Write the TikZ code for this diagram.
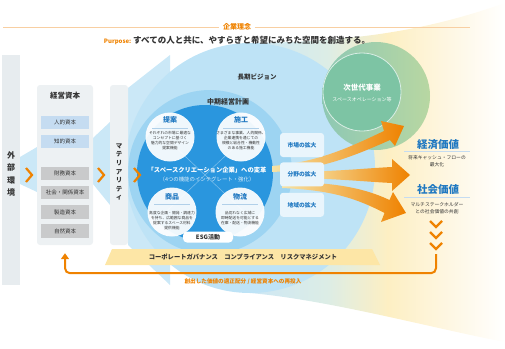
\documentclass[tikz,border=0pt]{standalone}
\usepackage{fontspec}
\setmainfont{Noto Sans CJK JP}
\usepackage{xcolor}
\usetikzlibrary{arrows.meta, positioning, calc, shapes.geometric}

\definecolor{tcorange}{HTML}{EF8200}
\definecolor{tcblue}{HTML}{1F78C1}
\definecolor{tctext}{HTML}{333333}
\definecolor{colgray}{HTML}{E7ECEF}
\definecolor{panelgray}{HTML}{EDF1F3}
\definecolor{boxblue}{HTML}{C5DCF1}
\definecolor{boxgray}{HTML}{C9CACB}
\definecolor{visionblue}{HTML}{BEE3F6}
\definecolor{planblue}{HTML}{9DD4F2}
\definecolor{coreblue}{HTML}{2A96DE}
\definecolor{nextgreen}{HTML}{7DC4A4}
\definecolor{ringteal}{HTML}{8EC8B4}
\definecolor{ringlime}{HTML}{B8D7A2}
\definecolor{bandyellow}{HTML}{FDE6A6}
\definecolor{funnelblue}{HTML}{CBE8F7}
\definecolor{growfill}{HTML}{E9F5FC}
\definecolor{fanblue}{HTML}{CDE7F5}
\definecolor{fanmint}{HTML}{DCEDE6}
\definecolor{fanyellow}{HTML}{FDEFC3}
\definecolor{fanpale}{HTML}{FEF6E0}
\definecolor{arrowpale}{HTML}{F6E3A6}
\definecolor{arrowmid}{HTML}{F5AE2E}
\definecolor{rinenline}{HTML}{F8CFA2}

\newcommand{\fsz}[2]{\fontsize{#1pt}{#2pt}\selectfont}

\pgfdeclarehorizontalshading{fanshade}{100bp}{color(0bp)=(fanblue); color(25bp)=(fanblue); color(40bp)=(fanmint); color(52bp)=(fanyellow); color(63bp)=(fanpale); color(75bp)=(white); color(100bp)=(white)}

\begin{document}
\begin{tikzpicture}[x=1pt, y=-1pt,
    chev/.style={draw=tcorange, line width=2.2pt},
    panel/.style={fill=panelgray, rounded corners=3, inner sep=0},
    capbox/.style={minimum width=48, minimum height=13.5, inner sep=0, font=\fsz{5.5}{6}, text=tctext},
    fnc/.style={circle, fill=white, fill opacity=0.93, minimum size=49, inner sep=0},
    fntitle/.style={font=\fsz{7}{8}\bfseries, text=tcblue},
    fntext/.style={font=\fsz{3.8}{5}, text=tctext, align=center},
    fnsep/.style={draw=tcblue!35, line width=0.4pt},
    growbox/.style={fill=growfill, rounded corners=3, minimum width=44, minimum height=24, inner sep=0, font=\fsz{5.8}{6}\bfseries, text=tcblue},
    valtitle/.style={font=\fsz{10.5}{12}\bfseries, text=tcblue},
    valtext/.style={font=\fsz{4.8}{6.8}, text=tctext, align=center},
    bigarrow/.style={left color=arrowpale, middle color=arrowmid, right color=tcorange},
    funnel/.style={fill=funnelblue}]
  \useasboundingbox (0,0) rectangle (505,348);

  % background fan
  \shade[shading=fanshade] (250,43) .. controls (380,42) and (450,22) .. (505,3)
     -- (505,342) .. controls (440,330) and (330,300) .. (250,293) -- cycle;

  % funnels
  \fill[funnel] (20,157) -- (37,147) -- (37,192) -- (20,184) -- cycle;
  \fill[funnel] (93,138) -- (110,122) -- (110,205) -- (93,184) -- cycle;
  \fill[funnel] (128,88) -- (170,55) -- (170,285) -- (128,245) -- cycle;

  % vision and plan
  \node[circle, fill=visionblue, minimum size=250, inner sep=0] (vision) at (250,168) {};
  \node[circle, fill=planblue, minimum size=164, inner sep=0] (plan) at (210,172) {};
  \node[font=\fsz{6.5}{7}\bfseries, text=tctext] (visionlbl) at (257,77) {長期ビジョン};
  \node[font=\fsz{7}{8}\bfseries, text=tctext] (planlbl) at (228,102) {中期経営計画};

  % core
  \node[circle, fill=coreblue, minimum size=136, inner sep=0] (core) at (205,173) {};
  \begin{scope}
    \clip (205,173) circle (68);
    \draw[white, opacity=0.35, line width=0.6pt] (120,95) -- (290,255);
    \draw[white, opacity=0.35, line width=0.6pt] (290,95) -- (120,255);
  \end{scope}

  \node[fnc] (teian) at (170,137) {};
  \node[fnc] (seko) at (241,137) {};
  \node[fnc] (shohin) at (172,212) {};
  \node[fnc] (butsuryu) at (240,212) {};

  \node[fntitle] (teiant) at (170,120) {提案};
  \draw[fnsep] (152,128) -- (188,128);
  \node[fntext] at (170,141) {それぞれの市場に最適な\\コンセプトに基づく\\魅力的な空間デザイン\\提案機能};

  \node[fntitle] (sekot) at (241,120) {施工};
  \draw[fnsep] (223,128) -- (259,128);
  \node[fntext] at (241,141) {さまざまな事業、人的関係、\\企業連携を通じての\\規模と総合性・機動性\\のある施工機能};

  \node[fntitle] (shohint) at (172,197) {商品};
  \draw[fnsep] (154,204) -- (190,204);
  \node[fntext] at (172,221) {高度な企画・開発・調達力\\を持ち、広範囲な商品を\\提案するスペース材料\\提供機能};

  \node[fntitle] (butsuryut) at (240,197) {物流};
  \draw[fnsep] (222,204) -- (258,204);
  \node[fntext] at (240,218) {品切れなく広域に\\即時配送を可能とする\\在庫・配送・物流機能};

  \node[fill=white, rounded corners=4, minimum width=50, minimum height=11, inner sep=0, font=\fsz{6}{7}\bfseries, text=tctext] (esg) at (208,237) {ESG活動};

  \node[font=\fsz{6.3}{7}\bfseries, text=white] (henkaku) at (207,170) {「スペースクリエーション企業」への変革};
  \node[font=\fsz{5.4}{6}, text=white!85!coreblue] (kyoka) at (207,179) {（4つの機能のインテグレート・強化）};

  % next generation business
  \node[circle, left color=ringteal, right color=ringlime, minimum size=108, inner sep=0] (nextring) at (376,96) {};
  \node[circle, fill=nextgreen, draw=white!70!nextgreen, line width=0.8pt, minimum size=78, inner sep=0] (next) at (362,92) {};
  \node[font=\fsz{7.5}{8}\bfseries, text=white] (nextt) at (362,88) {次世代事業};
  \node[font=\fsz{5}{6}, text=white] (nexts) at (362,100) {スペースオペレーション等};

  % growth arrows
  \path[bigarrow] (272,166) .. controls (320,162) and (352,146) .. (384,131)
     -- (381,121) -- (404,126) -- (395,146) -- (390,140)
     .. controls (354,156) and (320,170) .. (272,172) -- cycle;
  \path[bigarrow] (300,172) .. controls (340,171) and (370,168) .. (392,167)
     -- (392,159) -- (410,175) -- (392,191) -- (392,183)
     .. controls (370,182) and (340,179) .. (300,178) -- cycle;
  \path[bigarrow] (282,182) .. controls (330,182) and (362,187) .. (389.5,200)
     -- (393,192) -- (406,213) -- (381,222) -- (384.5,213)
     .. controls (356,198) and (330,190) .. (282,188) -- cycle;

  \node[growbox] (ichiba) at (302,145) {市場の拡大};
  \node[growbox, below=5pt of ichiba] (bunya) {分野の拡大};
  \node[growbox, below=6pt of bunya] (chiiki) {地域の拡大};

  % left columns
  \node[fill=colgray, minimum width=18, minimum height=230, inner sep=0] (gaibu) at (11,170) {};
  \node[font=\fsz{8}{12.5}\bfseries, text=tctext, align=center] (gaibut) at (11,174) {外\\部\\環\\境};
  \draw[chev] (26,168) -- (32,175) -- (26,182);

  \node[panel, minimum width=56, minimum height=160] (cap) at (65,165) {};
  \node[font=\fsz{7.5}{8}\bfseries, text=tctext] (capt) at (65,96) {経営資本};
  \node[capbox, fill=boxblue] (jinteki) at (65,122.5) {人的資本};
  \node[capbox, fill=boxblue, below=5pt of jinteki] (chiteki) {知的資本};
  \node[capbox, fill=boxgray, below=18pt of chiteki] (zaimu) {財務資本};
  \node[capbox, fill=boxgray, below=5.5pt of zaimu] (shakai) {社会・関係資本};
  \node[capbox, fill=boxgray, below=5.5pt of shakai] (seizo) {製造資本};
  \node[capbox, fill=boxgray, below=5pt of seizo] (shizen) {自然資本};
  \draw[chev] (98,168) -- (104,175) -- (98,182);

  \node[panel, minimum width=18, minimum height=160] (mat) at (119,165) {};
  \node[font=\fsz{6.5}{8.6}\bfseries, text=tctext, align=center] (matt) at (119,172) {マ\\テ\\リ\\ア\\リ\\テ\\ィ};
  \draw[chev] (134,168) -- (140,175) -- (134,182);

  % values
  \node[valtitle] (keizai) at (438,145) {経済価値};
  \draw[boxblue, line width=0.8pt] (404,151.5) -- (470,151.5);
  \node[valtext] (keizait) at (437,161.5) {将来キャッシュ・フローの\\最大化};
  \node[valtitle] (shakaiv) at (438,190) {社会価値};
  \draw[boxblue, line width=0.8pt] (404,197.5) -- (470,197.5);
  \node[valtext] (shakaivt) at (437,208) {マルチステークホルダー\\との社会価値の共創};
  \foreach \y in {221,232,243}
    \draw[chev] (430,\y) -- (436,\y+6) -- (442,\y);

  % return loop
  \coordinate (loopstart) at (436,254);
  \draw[tcorange, line width=2pt, rounded corners=5, -{Triangle[length=6pt,width=8pt]}]
    (loopstart) |- ([yshift=-28pt]cap.south) -- ([yshift=-8pt]cap.south);

  % governance band
  \fill[bandyellow] (105,265) -- (112,249) -- (372,249) -- (380,265) -- cycle;
  \node[font=\fsz{6.3}{7}\bfseries, text=tctext] (gov) at (243,257) {コーポレートガバナンス\quad コンプライアンス\quad リスクマネジメント};
  \node[font=\fsz{5.6}{6}\bfseries, text=tcorange] (reinvest) at (243,282) {創出した価値の適正配分 / 経営資本への再投入};

  % header
  \node[font=\fsz{7}{8}\bfseries, text=tcorange] (rinen) at (237,27) {企業理念};
  \draw[rinenline, line width=0.6pt] (3,27) -- (rinen.west);
  \draw[rinenline, line width=0.6pt] (rinen.east) -- (470,27);
  \node[font=\fsz{8.5}{10}\bfseries, text=tctext] (purpose) at (237,40) {\textcolor{tcorange}{\fsz{6}{7}Purpose:}\ すべての人と共に、やすらぎと希望にみちた空間を創造する。};
\end{tikzpicture}
\end{document}
